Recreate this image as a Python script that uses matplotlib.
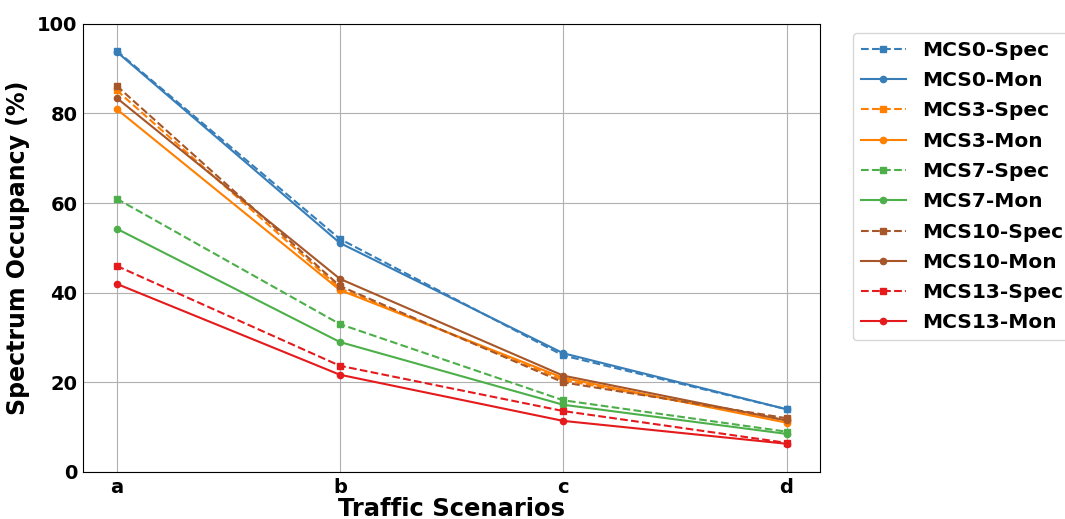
import matplotlib
matplotlib.use("Agg")
import matplotlib.pyplot as plt

scenarios = ["a", "b", "c", "d"]
labels = ["MCS0-Spec", "MCS0-Mon", "MCS3-Spec", "MCS3-Mon", "MCS7-Spec",
          "MCS7-Mon", "MCS10-Spec", "MCS10-Mon", "MCS13-Spec", "MCS13-Mon"]
mcs0_spec = [94.0, 52.0, 26.0, 14.0]
mcs0_mon = [93.8, 51.1, 26.5, 14.0]
mcs3_spec = [85.2, 41.0, 20.5, 11.5]
mcs3_mon = [81.0, 40.6, 21.0, 11.0]
mcs7_spec = [61.0, 33.0, 16.0, 9.0]
mcs7_mon = [54.3, 29.0, 15.0, 8.5]
mcs10_spec = [86.2, 41.5, 20.0, 12.0]
mcs10_mon = [83.5, 43.1, 21.5, 11.5]
mcs13_spec = [46.0, 23.7, 13.6, 6.5]
mcs13_mon = [42.0, 21.7, 11.4, 6.3]

series = [mcs0_spec, mcs0_mon, mcs3_spec, mcs3_mon, mcs7_spec,
          mcs7_mon, mcs10_spec, mcs10_mon, mcs13_spec, mcs13_mon]
colors = ["#377eb8", "#377eb8", "#ff7f00", "#ff7f00", "#4daf4a",
          "#4daf4a", "#a65628", "#a65628", "#e41a1c", "#e41a1c"]

fig = plt.figure(figsize=(10.65, 5.19), dpi=100)
ax = fig.add_axes([0.078, 0.0906, 0.692, 0.8634])
x = list(range(len(scenarios)))
for i, (lab, vals, c) in enumerate(zip(labels, series, colors)):
    spec = i % 2 == 0
    ax.plot(x, vals, color=c, linestyle="--" if spec else "-",
            marker="s" if spec else "o", markersize=5 if spec else 4.5,
            linewidth=1.5, label=lab)

ax.set_xlim(-0.15, 3.15)
ax.set_ylim(0, 100)
ax.set_xticks(x)
ax.set_xticklabels(scenarios)
ax.set_yticks([0, 20, 40, 60, 80, 100])
ax.tick_params(length=0, pad=4)
ax.grid(True, color="#b0b0b0", linewidth=0.8)
for lab in ax.get_xticklabels() + ax.get_yticklabels():
    lab.set_fontsize(14)
    lab.set_fontweight("bold")
ax.set_xlabel("Traffic Scenarios", fontsize=17.5, fontweight="bold", labelpad=0)
ax.set_ylabel("Spectrum Occupancy (%)", fontsize=17, fontweight="bold", labelpad=5)
leg = ax.legend(loc="upper left", bbox_to_anchor=(1.045, 0.98),
                prop={"size": 14.5, "weight": "bold"}, borderaxespad=0,
                handlelength=2.2, labelspacing=0.56)
fig.savefig("out.png", dpi=100)
